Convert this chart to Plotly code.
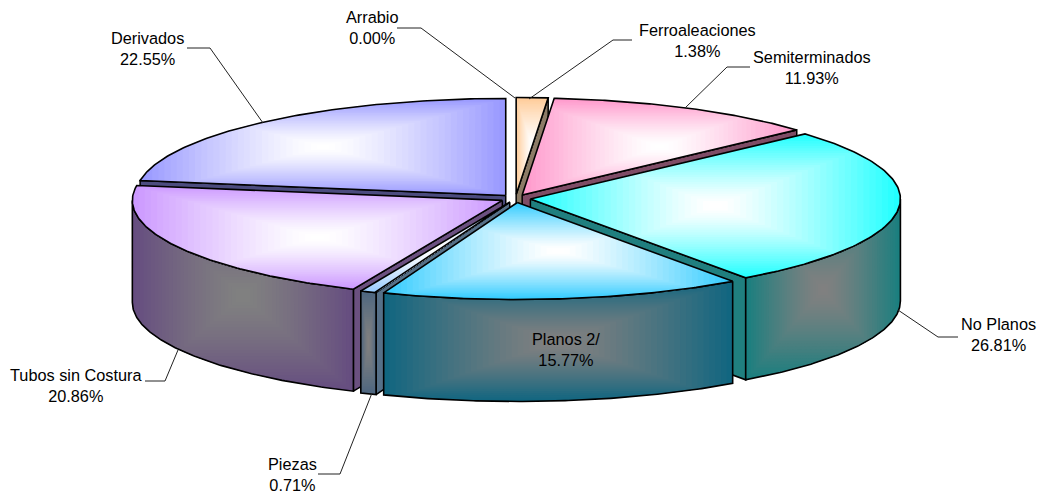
import numpy as np
import plotly.graph_objects as go

# ---------- data ----------
categories = ["Arrabio", "Ferroaleaciones", "Semiterminados", "No Planos",
              "Planos 2/", "Piezas", "Tubos sin Costura", "Derivados"]
shares = [0.00, 1.38, 11.93, 26.81, 15.77, 0.71, 20.86, 22.55]

# ---------- styles ----------
top_colors = ["#FF99CC", "#FFCC99", "#FF99CC", "#22FFFF", "#33CCFF", "#99CCFF", "#CC99FF", "#9999FF"]
side_colors = ["#808080", "#806650", "#804D66", "#1A7F7F", "#116680", "#4D6680", "#664D80", "#4D4D80"]
cut_colors = ["#808080", "#8C7B66", "#7F4C66", "#207F7F", "#5A7888", "#567088", "#6B5080", "#4C4C7F"]
draw_order = [1, 7, 2, 3, 6, 5, 4]

W, H = 1037, 493
CX, CY = 515.5, 198.5      # pie centre on the canvas
RX, RY = 370.0, 97.0       # ellipse radii of the tilted pie
EX, EY = 15.0, 4.0         # explosion offset
DEPTH = 102.0
STEPS = 30

label_pos = {
    "Arrabio": (372, 27), "Ferroaleaciones": (697, 40), "Semiterminados": (812, 67),
    "No Planos": (998, 334), "Planos 2/": (566, 349), "Piezas": (292, 474),
    "Tubos sin Costura": (76, 385), "Derivados": (147, 48),
}
leaders = [
    [(397, 28), (421, 28), (515, 98)],
    [(632, 40), (613, 40), (529, 99)],
    [(750, 67), (727, 67), (685, 108)],
    [(958, 337), (938, 337), (898, 310)],
    [(145, 381), (165, 381), (178, 350)],
    [(318, 474), (340, 474), (372, 393)],
    [(187, 48), (210, 48), (263, 123)],
]


def hex2rgb(h):
    return np.array([int(h[i:i + 2], 16) for i in (1, 3, 5)], dtype=float)


def mix(a, b, t):
    c = hex2rgb(a) * (1 - t) + hex2rgb(b) * t
    return "rgb(%d,%d,%d)" % tuple(np.round(c))


def clip_rect(points, x0, x1, y0, y1):
    """Sutherland-Hodgman clip of a polygon against a rectangle."""
    def clip(pts, inside, cross):
        out = []
        for i in range(len(pts)):
            p, q = pts[i - 1], pts[i]
            if inside(q):
                if not inside(p):
                    out.append(cross(p, q))
                out.append(q)
            elif inside(p):
                out.append(cross(p, q))
        return out

    def at_x(v):
        return lambda p, q: (v, p[1] + (q[1] - p[1]) * (v - p[0]) / (q[0] - p[0]))

    def at_y(v):
        return lambda p, q: (p[0] + (q[0] - p[0]) * (v - p[1]) / (q[1] - p[1]), v)

    pts = list(points)
    for inside, cross in [
        (lambda p: p[0] >= x0, at_x(x0)), (lambda p: p[0] <= x1, at_x(x1)),
        (lambda p: p[1] >= y0, at_y(y0)), (lambda p: p[1] <= y1, at_y(y1)),
    ]:
        if not pts:
            break
        pts = clip(pts, inside, cross)
    return pts


fig = go.Figure()


def add_poly(points, fill=None, line=None, width=1.5):
    xs = [p[0] for p in points] + [points[0][0]]
    ys = [p[1] for p in points] + [points[0][1]]
    fig.add_trace(go.Scatter(
        x=xs, y=ys, mode="lines", hoverinfo="skip", showlegend=False,
        fill="toself" if fill else "none",
        fillcolor=fill or "rgba(0,0,0,0)",
        line=dict(color=line or fill, width=width if line else 0),
    ))


def gradient_poly(points, edge, centre):
    """Rectangular path gradient over the polygon's bounding box."""
    xs = [p[0] for p in points]
    ys = [p[1] for p in points]
    x0, x1, y0, y1 = min(xs), max(xs), min(ys), max(ys)
    mx, my = (x0 + x1) / 2, (y0 + y1) / 2
    for k in range(STEPS):
        t = k / STEPS
        clipped = clip_rect(points, mx - (mx - x0) * (1 - t), mx + (x1 - mx) * (1 - t),
                            my - (my - y0) * (1 - t), my + (y1 - my) * (1 - t))
        if len(clipped) >= 3:
            add_poly(clipped, fill=mix(edge, centre, 1 - (1 - min(t / 0.95, 1)) ** 1.25))
    add_poly(points, line="#000000", width=1.6)


total = sum(shares)
edges = 360.0 * np.concatenate([[0], np.cumsum(shares)]) / total

for i in draw_order:
    a, b = edges[i], edges[i + 1]
    mid = np.radians((a + b) / 2)
    ax = CX + EX * np.sin(mid)
    ay = CY - EY * np.cos(mid)

    def pt(deg, dz=0.0):
        r = np.radians(deg)
        return (ax + RX * np.sin(r), ay - RY * np.cos(r) + dz)

    arc = [pt(d) for d in np.linspace(a, b, 120)]

    # radial cut faces that look toward the viewer
    if np.sin(np.radians(b)) > 0:
        add_poly([(ax, ay), pt(b), pt(b, DEPTH), (ax, ay + DEPTH)], fill=cut_colors[i], line="#000000")
    if np.sin(np.radians(a)) < 0:
        add_poly([(ax, ay), pt(a), pt(a, DEPTH), (ax, ay + DEPTH)], fill=cut_colors[i], line="#000000")

    # outer rim
    lo, hi = max(a, 90.0), min(b, 270.0)
    if hi > lo:
        deg = np.linspace(lo, hi, 120)
        rim = [pt(d) for d in deg] + [pt(d, DEPTH) for d in deg[::-1]]
        gradient_poly(rim, side_colors[i], "#808080")

    # top face
    gradient_poly([(ax, ay)] + arc, top_colors[i], "#FFFFFF")

shapes = []
for path in leaders:
    d = "M " + " L ".join(f"{x} {y}" for x, y in path)
    shapes.append(dict(type="path", xref="x", yref="y", path=d,
                       line=dict(color="#222222", width=1), layer="above"))

annotations = []
for cat, val in zip(categories, shares):
    x, y = label_pos[cat]
    annotations.append(dict(x=x, y=y, xref="x", yref="y", text=f"{cat}<br>{val:.2f}%",
                            showarrow=False, xanchor="center", yanchor="middle", align="center",
                            font=dict(family="Liberation Sans", size=16.3, color="#000000")))

fig.update_layout(
    width=W, height=H, margin=dict(l=0, r=0, t=0, b=0),
    paper_bgcolor="#FFFFFF", plot_bgcolor="#FFFFFF", showlegend=False,
    xaxis=dict(range=[0, W], visible=False, fixedrange=True),
    yaxis=dict(range=[H, 0], visible=False, fixedrange=True),
    shapes=shapes, annotations=annotations,
)

fig.write_html("out.html", config={"displayModeBar": False},
               post_script="document.body.style.margin='0';document.body.style.overflow='hidden';")
